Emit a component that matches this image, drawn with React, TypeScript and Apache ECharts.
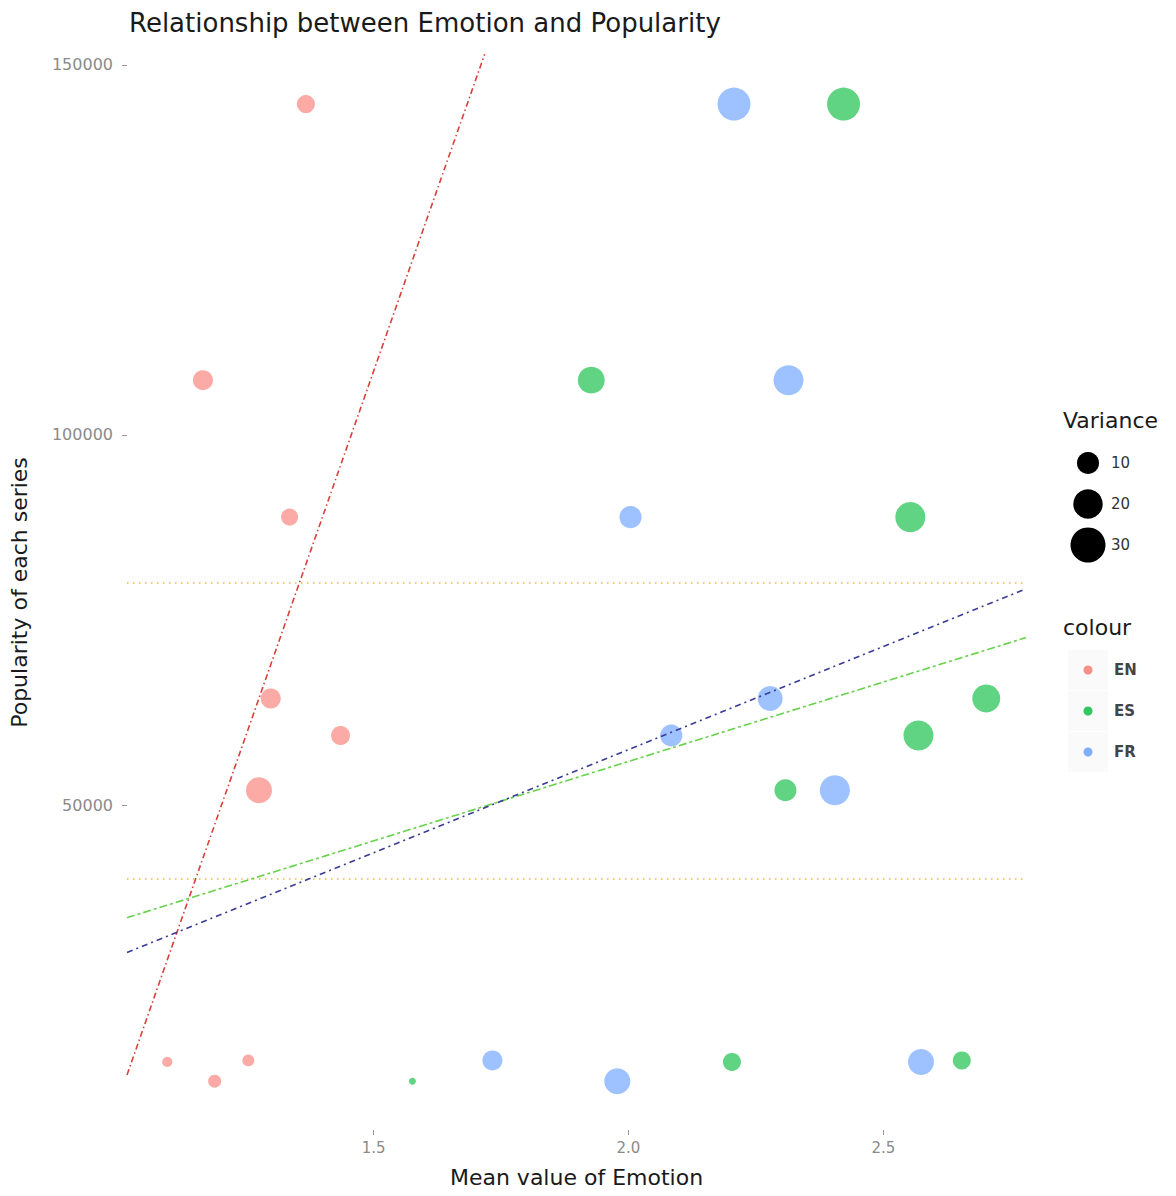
import React, { useEffect, useRef } from "react";
import * as echarts from "echarts";

const languages = ["EN", "ES", "FR"];
const langColors = ["#F8766D", "#00BA38", "#619CFF"];

const enEmotion = [1.367, 1.165, 1.335, 1.298, 1.435, 1.275, 1.095, 1.188, 1.254];
const enPopularity = [144700, 107400, 88900, 64400, 59400, 52000, 15300, 12700, 15500];
const enVariance = [6.0, 7.8, 5.2, 7.8, 6.8, 14.8, 1.6, 2.7, 2.2];

const esEmotion = [2.422, 1.927, 2.553, 2.702, 2.569, 2.308, 1.576, 2.203, 2.654];
const esPopularity = [144700, 107400, 88900, 64400, 59400, 52000, 12700, 15300, 15500];
const esVariance = [26, 16, 21, 17.7, 21, 10, 1.03, 6, 6];

const frEmotion = [2.207, 2.314, 2.004, 2.278, 2.084, 2.405, 1.733, 1.978, 2.574];
const frPopularity = [144700, 107400, 88900, 64400, 59400, 52000, 15500, 12700, 15300];
const frVariance = [26, 21, 10, 13.4, 10, 21, 7.8, 14.8, 14.8];

const fitNames = ["EN fit", "ES fit", "FR fit"];
const fitIntercepts = [-186100, 12990, 1760];
const fitSlopes = [196500, 21450, 27860];
const fitColors = ["#d8403a", "#66d24a", "#3b3b98"];
const fitDashes = [
  [6, 3, 1.5, 3],
  [8, 3, 3, 3],
  [6, 4, 2, 4],
];

const refLevels = [40000, 80000];
const xTicks = [1.5, 2.0, 2.5];
const yTicks = [50000, 100000, 150000];
const varianceBreaks = [10, 20, 30];
const xRange = [1.016, 2.78];
const yRange = [6100, 151330];
const varRange = [1, 30];

const FONT = "DejaVu Sans";

function sizeOf(v: number): number {
  const r = Math.max(0, (v - varRange[0]) / (varRange[1] - varRange[0]));
  return 6 + 29 * Math.sqrt(r);
}

export default function App() {
  const ref = useRef<HTMLDivElement>(null);
  useEffect(() => {
    if (!ref.current) return;
    const chart = echarts.init(ref.current, undefined, { renderer: "svg" });
    const groups = [
      [enEmotion, enPopularity, enVariance],
      [esEmotion, esPopularity, esVariance],
      [frEmotion, frPopularity, frVariance],
    ];
    const scatterSeries = groups.map((g, i) => ({
      name: languages[i],
      type: "scatter",
      data: g[0].map((x, k) => [x, g[1][k], g[2][k]]),
      symbolSize: (val: number[]) => sizeOf(val[2]),
      itemStyle: { color: langColors[i], opacity: 0.62 },
      z: 3,
    }));
    const fitSeries = fitNames.map((n, i) => ({
      name: n,
      type: "line",
      data: xRange.map((x) => [x, fitIntercepts[i] + fitSlopes[i] * x]),
      showSymbol: false,
      symbol: "none",
      clip: true,
      lineStyle: { color: fitColors[i], width: 1.6, type: fitDashes[i] },
      z: 4,
      silent: true,
    }));
    const refSeries = refLevels.map((lv, i) => ({
      name: "ref" + i,
      type: "line",
      data: xRange.map((x) => [x, lv]),
      symbol: "none",
      lineStyle: { color: "#f2b440", width: 1.5, type: [1.5, 4.5] },
      z: 2,
      silent: true,
    }));

    const legendX = 1063;
    const graphics: any[] = [];
    graphics.push({
      type: "text",
      left: legendX,
      top: 409,
      style: { text: "Variance", font: `22px "${FONT}"`, fill: "#1a1a1a" },
    });
    varianceBreaks.forEach((v, i) => {
      const cy = 463 + i * 41;
      graphics.push({
        type: "circle",
        shape: { cx: 1088, cy, r: sizeOf(v) / 2 },
        style: { fill: "#000" },
      });
      graphics.push({
        type: "text",
        x: 1111,
        y: cy,
        style: {
          text: String(v),
          font: `15px "${FONT}"`,
          fill: "#333",
          verticalAlign: "middle",
          align: "left",
        },
      });
    });
    graphics.push({
      type: "text",
      left: legendX,
      top: 616,
      style: { text: "colour", font: `22px "${FONT}"`, fill: "#1a1a1a" },
    });
    languages.forEach((l, i) => {
      const cy = 670 + i * 41;
      graphics.push({
        type: "rect",
        shape: { x: 1068, y: cy - 20, width: 40, height: 40 },
        style: { fill: "#fafafa" },
        z: 1,
      });
      graphics.push({
        type: "circle",
        shape: { cx: 1088, cy, r: 4.5 },
        style: { fill: langColors[i], opacity: 0.8 },
        z: 2,
      });
      graphics.push({
        type: "text",
        x: 1114,
        y: cy,
        style: {
          text: l,
          font: `bold 15px "${FONT}"`,
          fill: "#444",
          verticalAlign: "middle",
          align: "left",
        },
        z: 2,
      });
    });

    chart.setOption({
      animation: false,
      backgroundColor: "#ffffff",
      title: {
        text: "Relationship between Emotion and Popularity",
        left: 124,
        top: 5,
        textStyle: {
          fontFamily: FONT,
          fontSize: 26,
          fontWeight: "normal",
          color: "#1a1a1a",
        },
      },
      grid: { left: 126, right: 150, top: 55, bottom: 66 },
      xAxis: {
        type: "value",
        min: xRange[0],
        max: xRange[1],
        name: "Mean value of Emotion",
        nameLocation: "middle",
        nameGap: 36,
        nameTextStyle: { fontFamily: FONT, fontSize: 22, color: "#1a1a1a" },
        axisLine: { show: false },
        splitLine: { show: false },
        axisTick: {
          show: true,
          customValues: xTicks,
          length: 5,
          lineStyle: { color: "#999" },
        },
        axisLabel: {
          customValues: xTicks,
          formatter: (v: number) => v.toFixed(1),
          fontFamily: FONT,
          fontSize: 15,
          color: "#8a8a8a",
          margin: 10,
        },
      },
      yAxis: {
        type: "value",
        min: yRange[0],
        max: yRange[1],
        name: "Popularity of each series",
        nameLocation: "middle",
        nameGap: 97,
        nameTextStyle: { fontFamily: FONT, fontSize: 22, color: "#1a1a1a" },
        axisLine: { show: false },
        splitLine: { show: false },
        axisTick: {
          show: true,
          customValues: yTicks,
          length: 5,
          lineStyle: { color: "#999" },
        },
        axisLabel: {
          customValues: yTicks,
          formatter: (v: number) => String(v),
          fontFamily: FONT,
          fontSize: 16,
          color: "#8a8a8a",
          margin: 14,
        },
      },
      series: [...refSeries, ...fitSeries, ...scatterSeries],
      graphic: graphics,
    });
    return () => chart.dispose();
  }, []);
  return (
    <div
      ref={ref}
      style={{ position: "fixed", left: 0, top: 0, width: 1176, height: 1196 }}
    />
  );
}
